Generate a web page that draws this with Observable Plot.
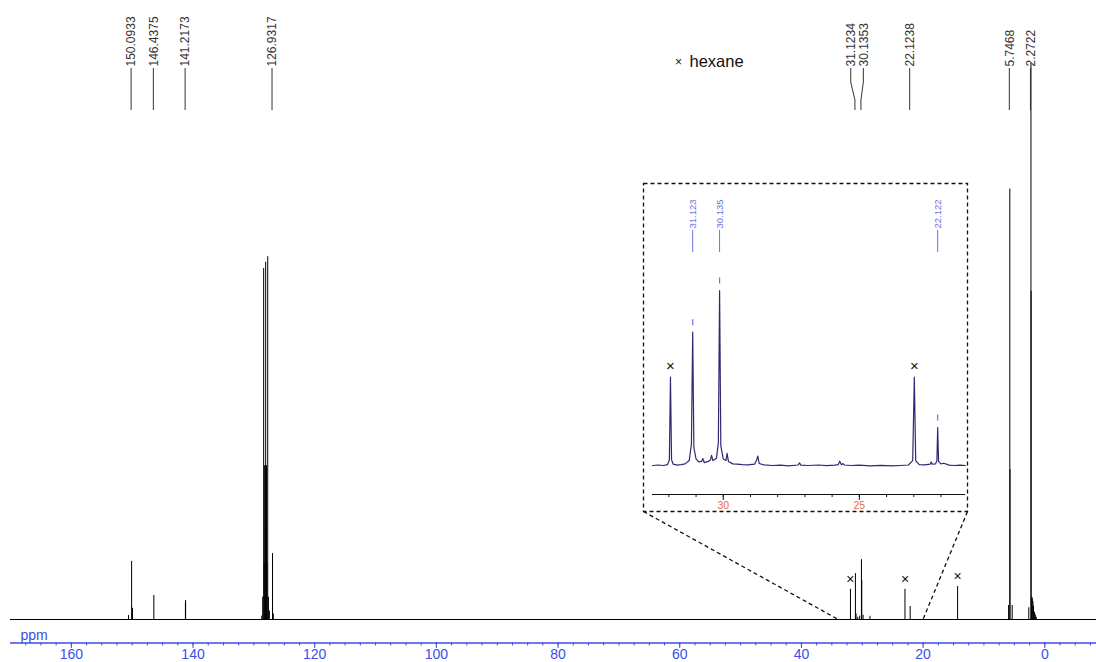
<!DOCTYPE html>
<html><head><meta charset="utf-8">
<script src="https://cdn.jsdelivr.net/npm/d3@7"></script>
<script src="https://cdn.jsdelivr.net/npm/@observablehq/plot@0.6"></script>
<style>
body{margin:0;background:#fff;}
#wrap{position:relative;width:1096px;height:662px;overflow:hidden;background:#fff;}
#wrap svg{position:absolute;}
</style></head><body><div id="wrap"></div>
<script>
// ---------- data (ppm, intensity) ----------
const mainPeaks = [
  [150.60, 0.7], [150.0933, 10.4], [149.95, 2.0], [146.4375, 4.3],
  [141.25, 3.0], [141.2173, 3.4],
  [128.70, 0.6], [128.55, 4.0], [128.39, 62.8], [128.30, 10], [128.22, 27.5], [128.14, 27.5],
  [128.06, 63.9], [128.00, 16], [127.92, 27.5], [127.84, 10], [127.72, 64.9], [127.60, 4.0],
  [127.45, 1.5], [126.9317, 11.8], [126.80, 1.0],
  [31.1234, 8.2], [31.02, 1.0], [30.75, 0.4], [30.43, 0.6], [30.1353, 10.7], [30.08, 7.0],
  [29.86, 0.75], [28.73, 0.57], [22.1238, 2.32],
  [5.95, 2.5], [5.7468, 77.0], [5.72, 26.8], [5.36, 2.5],
  [2.63, 2.1], [2.2722, 99.5], [2.25, 58.7], [2.15, 4.0], [2.05, 3.8], [1.95, 3.2],
  [1.85, 2.4], [1.70, 1.3], [1.55, 0.8], [1.40, 0.4]
];
const hexanePeaks = [[31.94, 5.4], [22.98, 5.4], [14.33, 5.9]];
const peakLabels = ["150.0933", "146.4375", "141.2173", "126.9317", "31.1234", "30.1353", "22.1238", "5.7468", "2.2722"];
const labelShift = [0, 0, 0, 0, -4.2, 2.4, 0, 0, 0];
const majorTicks = [160, 140, 120, 100, 80, 60, 40, 20, 0];
const minorTicks = d3.range(-7.5, 170, 2.5);
const connectorPpm = [34.0, 19.9];

const insetTrace = [
  [32.60, 0.00], [32.40, 0.03], [32.20, 0.00], [32.05, 0.05], [31.98, 0.35], [31.94, 5.40],
  [31.90, 0.35], [31.84, 0.08], [31.70, 0.02], [31.55, 0.05], [31.40, 0.10], [31.25, 0.30],
  [31.17, 1.30], [31.123, 8.15], [31.08, 1.10], [31.00, 0.40], [30.90, 0.22], [30.80, 0.25],
  [30.75, 0.42], [30.70, 0.18], [30.55, 0.25], [30.47, 0.35], [30.43, 0.62], [30.38, 0.30],
  [30.25, 0.45], [30.18, 1.40], [30.135, 10.70], [30.09, 1.20], [30.00, 0.40], [29.90, 0.30],
  [29.86, 0.75], [29.81, 0.25], [29.65, 0.10], [29.50, 0.08], [29.30, 0.05], [29.10, 0.04],
  [28.85, 0.08], [28.77, 0.35], [28.73, 0.58], [28.68, 0.12], [28.50, 0.04], [28.20, 0.00],
  [27.90, 0.02], [27.60, -0.02], [27.25, 0.03], [27.20, 0.16], [27.15, 0.02], [26.90, 0.00],
  [26.50, 0.03], [26.20, -0.01], [25.90, 0.02], [25.78, 0.05], [25.72, 0.26], [25.66, 0.05],
  [25.60, 0.12], [25.55, 0.03], [25.30, 0.00], [25.00, 0.02], [24.60, -0.02], [24.20, 0.01],
  [23.80, -0.02], [23.50, 0.00], [23.20, 0.03], [23.04, 0.30], [22.98, 5.40], [22.93, 0.30],
  [22.80, 0.05], [22.60, 0.04], [22.40, 0.08], [22.36, 0.22], [22.32, 0.08], [22.20, 0.10],
  [22.15, 0.30], [22.122, 2.32], [22.09, 0.25], [22.00, 0.10], [21.90, 0.14], [21.70, 0.02],
  [21.50, 0.00], [21.30, 0.02], [21.10, 0.00]
];
const insetLabels = ["31.123", "30.135", "22.122"];
const insetDomain = [32.6, 21.1];
const insetMajorTicks = [30, 25];
const insetMinorTicks = d3.range(22, 33, 1);

// ---------- layout / style ----------
const BLUE = "#3b4fe6";
const INSET_BLUE = "#6572e6";
const TRACE = "#2d2a73";
const FONT = "'Liberation Sans', Arial, Helvetica, sans-serif";
const INSET = {left: 643, top: 183, width: 325, height: 329};
const hasAxisMark = typeof Plot.axisX === "function";

// ---------- main spectrum ----------
const shifts = [...new Set(labelShift)];
const labelRows = peakLabels.map((t, i) => ({text: t, ppm: +t, shift: labelShift[i]}));

function annotations(index, scales) {
  const x = scales.x, y = scales.y;
  const g = d3.create("svg:g").attr("fill", "none");
  for (const r of labelRows) {
    const px = x(r.ppm), lx = px + r.shift;
    g.append("path").attr("d", `M${lx},68V82L${px},100V110`)
      .attr("stroke", "#333").attr("stroke-width", 1);
  }
  const bx0 = INSET.left + 0.5, by0 = INSET.top + 0.5;
  const bx1 = INSET.left + INSET.width - 0.5, by1 = INSET.top + INSET.height - 0.5;
  g.append("rect").attr("x", bx0).attr("y", by0)
    .attr("width", bx1 - bx0).attr("height", by1 - by0)
    .attr("stroke", "#111").attr("stroke-width", 1.3).attr("stroke-dasharray", "4,3");
  g.append("line").attr("x1", bx0).attr("y1", by1).attr("x2", x(connectorPpm[0])).attr("y2", y(0))
    .attr("stroke", "#111").attr("stroke-width", 1.3).attr("stroke-dasharray", "4,3");
  g.append("line").attr("x1", bx1).attr("y1", by1).attr("x2", x(connectorPpm[1])).attr("y2", y(0))
    .attr("stroke", "#111").attr("stroke-width", 1.3).attr("stroke-dasharray", "4,3");
  return g.node();
}

const axisMarks = hasAxisMark ? [
  Plot.axisX({ticks: minorTicks, tickSize: 3, tickFormat: () => "", color: BLUE, label: null}),
  Plot.axisX({ticks: majorTicks, tickSize: 5.5, tickPadding: 1, color: BLUE, fontSize: 14, label: null})
] : [];

const main = Plot.plot({
  width: 1096, height: 662,
  marginLeft: 10, marginRight: 0, marginTop: 0, marginBottom: 19.5,
  x: hasAxisMark ? {domain: [170, -8.5]} :
     {domain: [170, -8.5], ticks: majorTicks, tickSize: 5, label: null},
  y: {domain: [0, 100], range: [619, 60], axis: null},
  style: {background: "transparent", fontFamily: FONT, color: BLUE, overflow: "visible"},
  marks: [
    Plot.ruleY([0], {stroke: "#000", strokeWidth: 1.2}),
    Plot.ruleX(mainPeaks, {x: d => d[0], y1: 0, y2: d => d[1], stroke: "#000", strokeWidth: 1}),
    Plot.ruleX(hexanePeaks, {x: d => d[0], y1: 0, y2: d => d[1], stroke: "#000", strokeWidth: 1}),
    Plot.text(hexanePeaks, {x: d => d[0], y: d => d[1], text: () => "×", dy: -10, fontSize: 14, fill: "#111"}),
    Plot.ruleY([0], {dy: 23.5, stroke: BLUE, strokeWidth: 1.6}),
    ...axisMarks,
    Plot.text(["ppm"], {frameAnchor: "bottom-left", dx: 10, dy: -3, textAnchor: "start", lineAnchor: "bottom", fill: BLUE, fontSize: 14}),
    ...shifts.map(s => Plot.text(labelRows.filter(r => r.shift === s), {
      x: "ppm", text: "text", frameAnchor: "top", dy: 66, dx: s, rotate: -90,
      textAnchor: "start", lineAnchor: "middle", fontSize: 12, fill: "#333"
    })),
    Plot.text(["×"], {frameAnchor: "top-left", dx: 668, dy: 62, fontSize: 12, textAnchor: "middle", lineAnchor: "middle", fill: "#111"}),
    Plot.text(["hexane"], {frameAnchor: "top-left", dx: 679, dy: 61.5, fontSize: 16.5, textAnchor: "start", lineAnchor: "middle", fill: "#111"}),
    annotations
  ]
});
main.style.left = "0px"; main.style.top = "0px";
document.getElementById("wrap").appendChild(main);

// ---------- inset ----------
const peakTop = ppm => d3.max(insetTrace.filter(d => Math.abs(d[0] - ppm) < 0.02), d => d[1]);
const insetLabelRows = insetLabels.map(t => ({text: t, ppm: +t, h: peakTop(+t)}));
const insetHexane = hexanePeaks.filter(d => d[0] <= insetDomain[0] && d[0] >= insetDomain[1])
  .map(d => [d[0], peakTop(d[0]) ?? d[1]]);
const vbar = {draw(ctx, size) { ctx.moveTo(0, -3); ctx.lineTo(0, 3); }};

const insetAxis = hasAxisMark ? [
  Plot.axisX({ticks: insetMinorTicks, tickSize: 3, tickFormat: () => "", color: "#111", label: null}),
  Plot.axisX({ticks: insetMajorTicks, tickSize: 6, tickFormat: () => "", color: "#111", label: null}),
  Plot.axisX({ticks: insetMajorTicks, tickSize: 0, tickPadding: 7, color: "#ee6a3e", fontSize: 10.5, label: null})
] : [];

const inset = Plot.plot({
  width: INSET.width, height: INSET.height,
  marginLeft: 9, marginRight: 3, marginTop: 0, marginBottom: 18,
  x: hasAxisMark ? {domain: insetDomain} : {domain: insetDomain, ticks: insetMajorTicks, tickSize: 6, label: null},
  y: {domain: [0, 10.7], range: [282, 107], axis: null},
  style: {background: "transparent", fontFamily: FONT, overflow: "visible"},
  marks: [
    Plot.ruleY([0], {dy: 29, stroke: "#111", strokeWidth: 1.2}),
    ...insetAxis,
    Plot.line(insetTrace, {x: d => d[0], y: d => d[1], stroke: TRACE, strokeWidth: 1.2}),
    Plot.text(insetHexane, {x: d => d[0], y: d => d[1], text: () => "×", dy: -11, fontSize: 15, fill: "#111"}),
    Plot.dot(insetLabelRows, {x: "ppm", y: "h", symbol: vbar, r: 3, stroke: INSET_BLUE, strokeWidth: 1.2, dy: -10}),
    Plot.ruleX(insetLabelRows, {x: "ppm", insetTop: 47, insetBottom: 311 - 69, stroke: INSET_BLUE, strokeWidth: 1}),
    Plot.text(insetLabelRows, {x: "ppm", text: "text", frameAnchor: "top", dy: 45, rotate: -90,
      textAnchor: "start", lineAnchor: "middle", fontSize: 9.5, fill: INSET_BLUE})
  ]
});
inset.style.left = INSET.left + "px"; inset.style.top = INSET.top + "px";
document.getElementById("wrap").appendChild(inset);
</script></body></html>
